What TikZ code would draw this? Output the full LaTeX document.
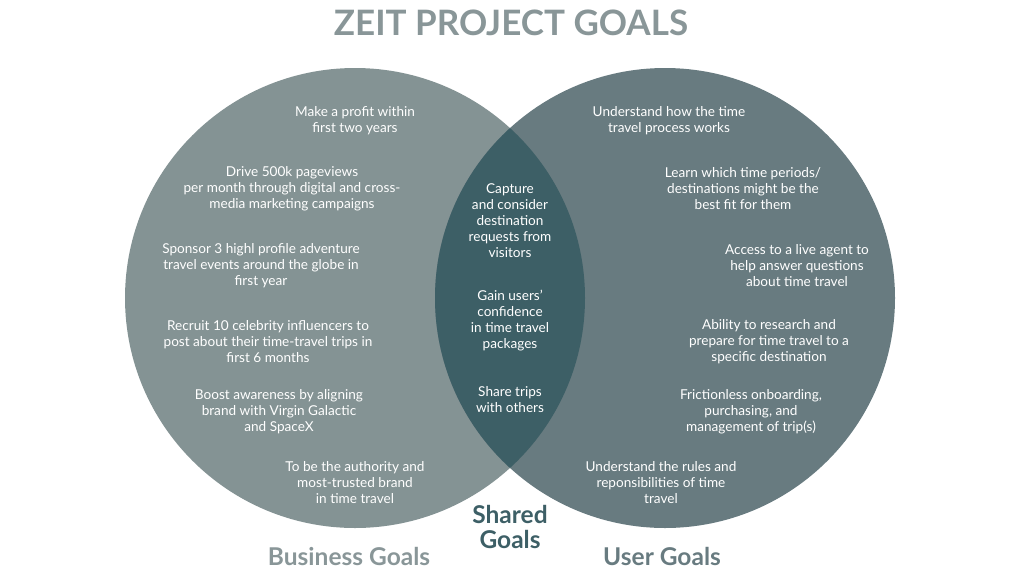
\documentclass[tikz,border=0pt]{standalone}
\usepackage{fontspec}
\setmainfont{Lato}
\usepackage{tikz}

\definecolor{bizgray}{RGB}{132,147,148}
\definecolor{usergray}{RGB}{104,123,128}
\definecolor{sharedteal}{RGB}{61,95,102}
\definecolor{titlegray}{RGB}{137,150,152}

\tikzset{
  goal/.style={text=white, align=center, inner sep=0pt, yshift=-2pt, font=\fontsize{13.6}{16}\selectfont},
  setlabel/.style={align=center, inner sep=0pt, font=\bfseries\fontsize{24.5}{25}\selectfont}
}

\begin{document}
\begin{tikzpicture}[x=1pt,y=1pt,yscale=-1]
\useasboundingbox (0,0) rectangle (1022,576);

%Shape: Circle [business]
\fill [bizgray] (355,298) circle (230);
%Shape: Circle [user]
\fill [usergray] (665,298) circle (230);
%Shape: Lens [shared]
\begin{scope}
  \clip (355,298) circle (230);
  \fill [sharedteal] (665,298) circle (230);
\end{scope}

% Title
\node (title) [text=titlegray, inner sep=0pt, font=\bfseries\fontsize{35}{40}\selectfont] at (511,23) {ZEIT PROJECT GOALS};

% Text Node
\node (b1) [goal] at (355,119) {Make a profit within\\first two years};
% Text Node
\node (b2) [goal] at (292,187) {Drive 500k pageviews\\per month through digital and cross-\\media marketing campaigns};
% Text Node
\node (b3) [goal] at (261,264) {Sponsor 3 highl profile adventure\\travel events around the globe in\\first year};
% Text Node
\node (b4) [goal] at (268,340) {Recruit 10 celebrity influencers to\\post about their time-travel trips in\\first 6 months};
% Text Node
\node (b5) [goal] at (279,410) {Boost awareness by aligning\\brand with Virgin Galactic\\and SpaceX};
% Text Node
\node (b6) [goal] at (355,481) {To be the authority and\\most-trusted brand\\in time travel};

% Text Node
\node (s1) [goal] at (510,219) {Capture\\and consider\\destination\\requests from\\visitors};
% Text Node
\node (s2) [goal] at (510,319) {Gain users'\\confidence\\in time travel\\packages};
% Text Node
\node (s3) [goal] at (510,398) {Share trips\\with others};

% Text Node
\node (u1) [goal] at (669,119) {Understand how the time\\travel process works};
% Text Node
\node (u2) [goal] at (743,187) {Learn which time periods/\\destinations might be the\\best fit for them};
% Text Node
\node (u3) [goal] at (797,264) {Access to a live agent to\\help answer questions\\about time travel};
% Text Node
\node (u4) [goal] at (769,340) {Ability to research and\\prepare for time travel to a\\specific destination};
% Text Node
\node (u5) [goal] at (751,410) {Frictionless onboarding,\\purchasing, and\\management of trip(s)};
% Text Node
\node (u6) [goal] at (661,481) {Understand the rules and\\reponsibilities of time\\travel};

% Labels
\node (shared) [setlabel, text=sharedteal] at (510,527) {Shared\\Goals};
\node (business) [setlabel, text=titlegray] at (349,556) {Business Goals};
\node (user) [setlabel, text=usergray] at (662,556) {User Goals};

\end{tikzpicture}
\end{document}
